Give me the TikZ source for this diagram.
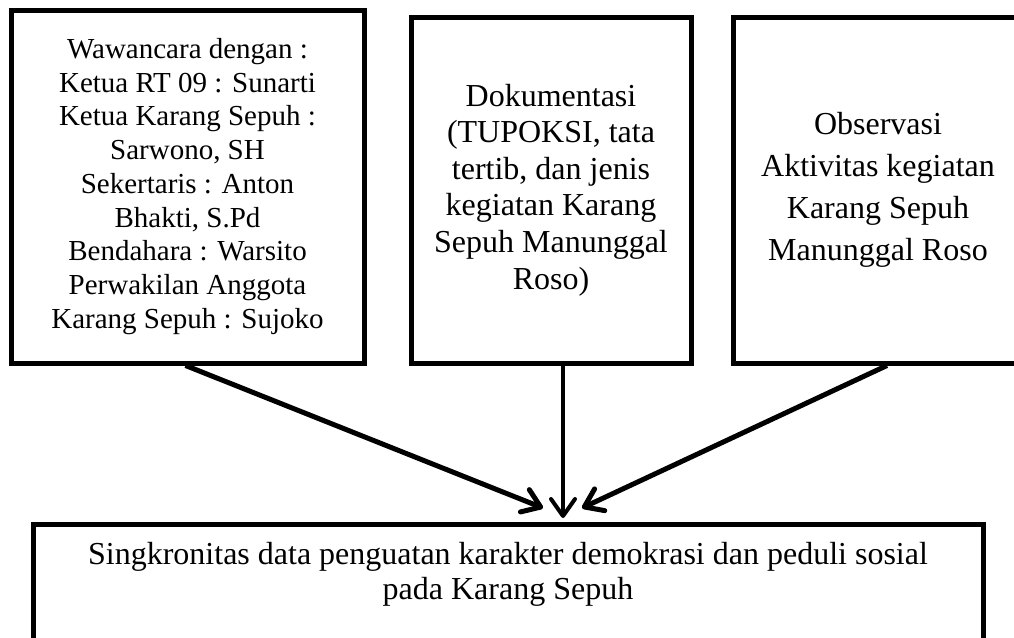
\documentclass[tikz,border=0pt]{standalone}
\usepackage{fontspec}
\setmainfont{Liberation Serif}
\usetikzlibrary{arrows.meta,calc}
\begin{document}
\begin{tikzpicture}[x=1pt,y=-1pt,
  box/.style={draw=black,line width=5pt,rectangle,inner sep=0pt,align=center},
  bigtext/.style={font=\fontsize{32}{36.6}\selectfont},
  conn/.style={line width=5pt,-{Straight Barb[length=17pt,width=24pt,line cap=round,line join=round]}}
]
\useasboundingbox (0,0) rectangle (1014,637);
\clip (0,0) rectangle (1014,637);
\node[box,minimum width=353pt,minimum height=353pt,font=\fontsize{29}{33.75}\selectfont] (w) at (187.5,186.5)
  {Wawancara dengan :\\Ketua RT 09 : Sunarti\\Ketua Karang Sepuh :\\Sarwono, SH\\Sekertaris : Anton\\Bhakti, S.Pd\\Bendahara : Warsito\\Perwakilan Anggota\\Karang Sepuh : Sujoko};
\node[box,bigtext,minimum width=280pt,minimum height=346pt] (d) at (551,190)
  {Dokumentasi\\(TUPOKSI, tata\\tertib, dan jenis\\kegiatan Karang\\Sepuh Manunggal\\Roso)};
\node[box,minimum width=290pt,minimum height=346pt,font=\fontsize{32}{42}\selectfont] (o) at (878,190)
  {Observasi\\Aktivitas kegiatan\\Karang Sepuh\\Manunggal Roso};
\node[box,anchor=north,minimum width=950pt,inner ysep=18pt,font=\fontsize{32}{35}\selectfont] (s) at (508,522)
  {Singkronitas data penguatan karakter demokrasi dan peduli sosial\\pada Karang Sepuh\rule[-80pt]{0pt}{0pt}};
\draw[conn] ([xshift=-2pt]w.south) -- ([xshift=35pt,yshift=14pt]s.north);
\draw[conn,line width=4pt] ([xshift=12pt]d.south) -- ([xshift=55pt,yshift=4pt]s.north);
\draw[conn] ([xshift=9pt]o.south) -- ([xshift=74pt,yshift=14pt]s.north);
\end{tikzpicture}
\end{document}
